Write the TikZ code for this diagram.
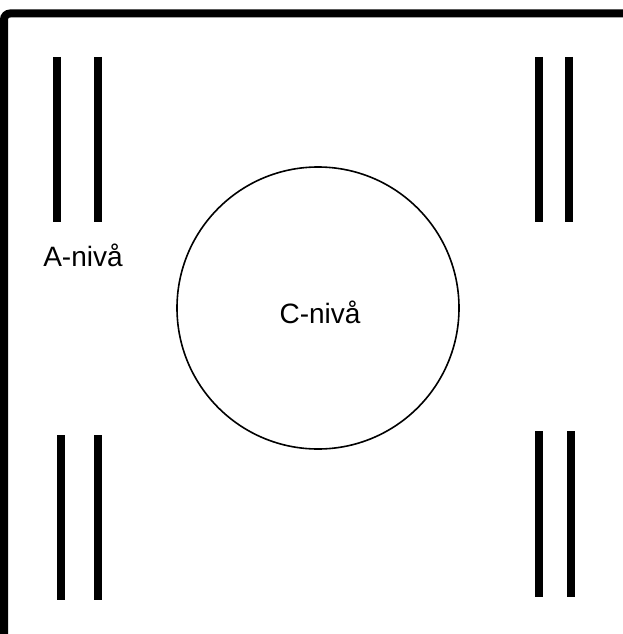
\documentclass[tikz,border=0pt]{standalone}
\usepackage{fontspec}
\setmainfont{Liberation Sans}
\usetikzlibrary{positioning}

\begin{document}
\begin{tikzpicture}[
        x=1pt, y=-1pt,
        wall/.style={line width=8pt, rounded corners=6pt},
        bar/.style={line width=8pt},
        level/.style={font=\fontsize{28}{32}\selectfont, inner sep=0pt}
    ]

    \useasboundingbox (0,0) rectangle (622,634);

    \draw[wall] (4,640) -- (4,13.5) -- (630,13.5);

    \draw[bar] (57,57) -- (57,222);
    \draw[bar] (98,57) -- (98,222);
    \draw[bar] (539,57) -- (539,222);
    \draw[bar] (569,57) -- (569,222);
    \draw[bar] (61,435) -- (61,600);
    \draw[bar] (98,435) -- (98,600);
    \draw[bar] (539,431) -- (539,597);
    \draw[bar] (571,431) -- (571,597);

    \node[circle, draw, line width=1.6pt, minimum size=282pt] (cLevel) at (318,308) {};
    \node[level, anchor=base] (cText) at (320,323) {C-nivå};
    \node[level, anchor=base] (aText) at (83,266) {A-nivå};
\end{tikzpicture}
\end{document}
